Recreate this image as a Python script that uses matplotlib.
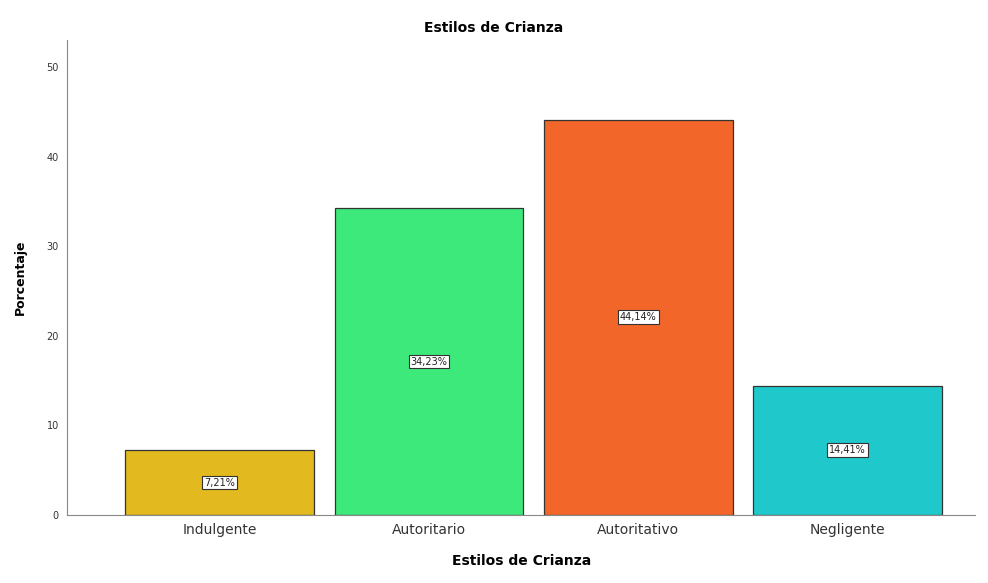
import numpy as np
import matplotlib.pyplot as plt

categorias = ["Indulgente", "Autoritario", "Autoritativo", "Negligente"]
porcentajes = [7.21, 34.23, 44.14, 14.41]
colores = ["#E2B91E", "#3EE97B", "#F2662A", "#1FC9CB"]

fig = plt.figure(figsize=(9.88, 5.83), dpi=100)
ax = fig.add_axes([0.068, 0.117, 0.919, 0.814])

x = np.arange(len(categorias))
barras = ax.bar(x, porcentajes, width=0.9, color=colores, edgecolor="#333333", linewidth=0.9)

for xi, v in zip(x, porcentajes):
    etiqueta = f"{v:.2f}%".replace(".", ",")
    ax.text(xi, v / 2, etiqueta, ha="center", va="center", fontsize=7, color="#222222",
            bbox=dict(boxstyle="square,pad=0.2", facecolor="white", edgecolor="#333333", linewidth=0.8))

ax.set_xlim(-0.728, 3.609)
ax.set_ylim(0, 53)
ax.set_yticks([0, 10, 20, 30, 40, 50])
ax.set_xticks(x)
ax.set_xticklabels(categorias, fontsize=10, color="#333333")
ax.tick_params(axis="y", labelsize=7, length=0, pad=6, colors="#333333")
ax.tick_params(axis="x", length=0, pad=6)

for lado in ["top", "right"]:
    ax.spines[lado].set_visible(False)
for lado in ["left", "bottom"]:
    ax.spines[lado].set_color("#888888")

ax.set_ylabel("Porcentaje", fontsize=9, fontweight="bold", labelpad=14)
ax.set_xlabel("Estilos de Crianza", fontsize=10, fontweight="bold", labelpad=12)
fig.text(0.5, 0.952, "Estilos de Crianza", ha="center", va="center", fontsize=10, fontweight="bold")

fig.savefig("out.png", dpi=100)
